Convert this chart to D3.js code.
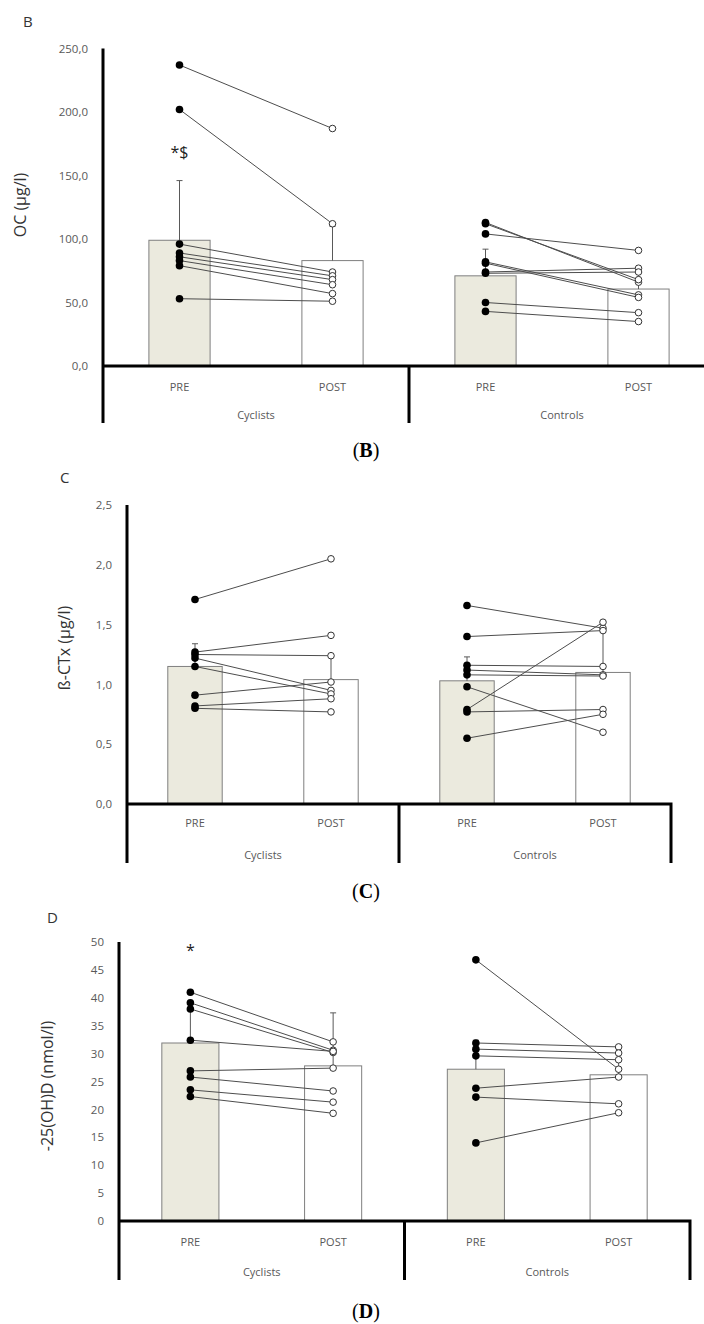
<!DOCTYPE html>
<html>
<head>
<meta charset="utf-8">
<script src="https://cdn.jsdelivr.net/npm/d3@7"></script>
<style>
  body { margin: 0; background: #fff; }
  svg { display: block; }
  .tick text { font-family: "Open Sans", sans-serif; font-size: 11.5px; fill: #595959; }
  .cat { font-family: "Open Sans", sans-serif; font-size: 11px; fill: #595959; }
  .ytitle { font-family: "Open Sans", sans-serif; font-size: 16px; fill: #333; }
  .plabel { font-family: "Open Sans", sans-serif; font-size: 15px; fill: #333; }
  .caption { font-family: "Liberation Serif", serif; font-size: 20px; fill: #000; }
</style>
</head>
<body>
<div id="chart"></div>
<script>
// categorias
const groups = ["Cyclists", "Controls"];
const phases = ["PRE", "POST"];

// B: OC (µg/l) - orden: Cyclists PRE, Cyclists POST, Controls PRE, Controls POST
const ocMeans = [99, 83, 71, 60.6];
const ocErrTop = [146, 110, 92, 73];
const ocCycPre = [237, 202, 96, 89, 86, 83, 79, 53];
const ocCycPost = [187, 112, 74, 71, 68, 64, 57, 51];
const ocCtrlPre = [113, 112, 104, 82, 81, 74, 73, 50, 43];
const ocCtrlPost = [66, 68, 91, 56, 54, 77, 74, 42, 35];
const ocTicks = [0, 50, 100, 150, 200, 250];

// C: ß-CTx (µg/l)
const ctxMeans = [1.15, 1.04, 1.03, 1.10];
const ctxErrTop = [1.34, 1.24, 1.23, 1.46];
const ctxCycPre = [1.71, 1.27, 1.25, 1.22, 1.15, 0.91, 0.82, 0.80];
const ctxCycPost = [2.05, 1.41, 1.24, 0.95, 0.92, 1.02, 0.88, 0.77];
const ctxCtrlPre = [1.66, 1.40, 1.16, 1.12, 1.08, 0.98, 0.79, 0.77, 0.55];
const ctxCtrlPost = [1.47, 1.45, 1.15, 1.08, 1.07, 0.60, 1.52, 0.79, 0.75];
const ctxTicks = [0, 0.5, 1, 1.5, 2, 2.5];

// D: -25(OH)D (nmol/l)
const vdMeans = [31.9, 27.8, 27.2, 26.2];
const vdErrTop = [38, 37.3, 32.4, 31];
const vdCycPre = [41.0, 39.1, 38.0, 32.4, 26.9, 25.8, 23.5, 22.3];
const vdCycPost = [32.1, 30.6, 30.2, 30.4, 27.4, 23.3, 21.3, 19.3];
const vdCtrlPre = [46.8, 31.9, 30.8, 29.6, 23.8, 22.2, 14.0];
const vdCtrlPost = [27.2, 31.2, 30.1, 28.9, 25.8, 21.0, 19.4];
const vdTicks = [0, 5, 10, 15, 20, 25, 30, 35, 40, 45, 50];

const comma1 = v => d3.format(".1f")(v).replace(".", ",");

const svg = d3.select("#chart")
    .append("svg")
    .attr("width", 704)
    .attr("height", 1324);

svg.append("rect").attr("width", 704).attr("height", 1324).attr("fill", "#fff");

function drawPanel(p) {
    const keys = [];
    groups.forEach(g => phases.forEach(ph => keys.push(g + "|" + ph)));

    const x = d3.scaleBand()
        .domain(keys)
        .range([p.left, p.right])
        .paddingInner(0.6)
        .paddingOuter(0.3);

    const y = d3.scaleLinear()
        .domain([0, d3.max(p.ticks)])
        .range([p.y0, p.yTop]);

    const g = svg.append("g");

    // Barras
    g.selectAll(".bar")
        .data(p.means)
        .enter()
        .append("rect")
        .attr("x", (d, i) => x(keys[i]))
        .attr("y", d => y(d))
        .attr("width", x.bandwidth())
        .attr("height", d => y(0) - y(d))
        .attr("fill", (d, i) => i % 2 === 0 ? "#ebeade" : "#fff")
        .attr("stroke", "#7f7f7f")
        .attr("stroke-width", 1);

    // Barras de error
    const cx = i => x(keys[i]) + x.bandwidth() / 2;
    g.selectAll(".err")
        .data(p.errTop)
        .enter()
        .append("path")
        .attr("d", (d, i) => "M" + cx(i) + "," + y(p.means[i]) + "V" + y(d)
            + "M" + (cx(i) - 3) + "," + y(d) + "H" + (cx(i) + 3))
        .attr("fill", "none")
        .attr("stroke", "#595959")
        .attr("stroke-width", 1);

    // Lineas individuales y puntos
    const indiv = [[p.cycPre, p.cycPost], [p.ctrlPre, p.ctrlPost]];
    indiv.forEach((pair, gi) => {
        const xPre = cx(gi * 2), xPost = cx(gi * 2 + 1);
        const pts = pair[0].map((v, k) => ({pre: v, post: pair[1][k]}));

        g.selectAll(null)
            .data(pts)
            .enter()
            .append("line")
            .attr("x1", xPre).attr("y1", d => y(d.pre))
            .attr("x2", xPost).attr("y2", d => y(d.post))
            .attr("stroke", "#4d4d4d")
            .attr("stroke-width", 1);

        g.selectAll(null)
            .data(pts)
            .enter()
            .append("circle")
            .attr("cx", xPre).attr("cy", d => y(d.pre))
            .attr("r", 3.8)
            .attr("fill", "#000");

        g.selectAll(null)
            .data(pts)
            .enter()
            .append("circle")
            .attr("cx", xPost).attr("cy", d => y(d.post))
            .attr("r", 3.3)
            .attr("fill", "#fff")
            .attr("stroke", "#333")
            .attr("stroke-width", 1);
    });

    // Eje Y
    const yAxis = d3.axisLeft(y)
        .tickValues(p.ticks)
        .tickSize(0)
        .tickPadding(15)
        .tickFormat(p.fmt);
    const ya = g.append("g")
        .attr("transform", "translate(" + p.left + ",0)")
        .call(yAxis);
    ya.select(".domain").remove();

    // Lineas de ejes y caja de categorias
    const mid = p.left + (p.right - p.left) / 2;
    const axisPath = "M" + p.left + "," + y(d3.max(p.ticks)) + "V" + p.bottom
        + "M" + p.left + "," + y(0) + "H" + p.right + "V" + p.bottom
        + "M" + mid + "," + y(0) + "V" + p.bottom;
    g.append("path")
        .attr("d", axisPath)
        .attr("fill", "none")
        .attr("stroke", "#000")
        .attr("stroke-width", 3);

    // Etiquetas de categoria
    keys.forEach((k, i) => {
        g.append("text")
            .attr("class", "cat")
            .attr("x", cx(i))
            .attr("y", p.catY)
            .attr("text-anchor", "middle")
            .attr("dy", "0.35em")
            .text(k.split("|")[1]);
    });
    groups.forEach((gr, i) => {
        g.append("text")
            .attr("class", "cat")
            .attr("x", i === 0 ? (p.left + mid) / 2 : (mid + p.right) / 2)
            .attr("y", p.groupY)
            .attr("text-anchor", "middle")
            .attr("dy", "0.35em")
            .text(gr);
    });

    // Titulo eje Y
    g.append("text")
        .attr("class", "ytitle")
        .attr("transform", "translate(" + p.titleX + "," + p.titleY + ") rotate(-90)")
        .attr("text-anchor", "middle")
        .attr("dy", "0.35em")
        .text(p.title);

    // Letra del panel
    g.append("text")
        .attr("class", "plabel")
        .attr("x", p.letterX)
        .attr("y", p.letterY)
        .attr("dy", "0.35em")
        .text(p.letter);

    // Marcas de significancia
    if (p.sig) {
        g.append("text")
            .attr("x", cx(0))
            .attr("y", y(p.sig.at))
            .attr("text-anchor", "middle")
            .attr("dy", "0.35em")
            .style("font-family", "'Open Sans', sans-serif")
            .style("font-size", "16px")
            .style("fill", "#222")
            .text(p.sig.text);
    }

    // Pie "(B)"
    const cap = g.append("text")
        .attr("class", "caption")
        .attr("x", 366)
        .attr("y", p.capY)
        .attr("text-anchor", "middle")
        .attr("dy", "0.35em");
    cap.append("tspan").text("(");
    cap.append("tspan").attr("font-weight", "bold").text(p.letter);
    cap.append("tspan").text(")");
}

drawPanel({
    letter: "B", letterX: 23, letterY: 22,
    title: "OC (µg/l)", titleX: 20, titleY: 205,
    left: 103, right: 715, y0: 366, yTop: 48.5, bottom: 423,
    catY: 387, groupY: 415, capY: 450,
    ticks: ocTicks, fmt: comma1,
    means: ocMeans, errTop: ocErrTop,
    cycPre: ocCycPre, cycPost: ocCycPost, ctrlPre: ocCtrlPre, ctrlPost: ocCtrlPost,
    sig: {text: "*$", at: 168}
});

drawPanel({
    letter: "C", letterX: 60, letterY: 478,
    title: "ß-CTx (µg/l)", titleX: 64, titleY: 648,
    left: 127, right: 671, y0: 804, yTop: 505, bottom: 863,
    catY: 823, groupY: 855, capY: 891,
    ticks: ctxTicks, fmt: comma1,
    means: ctxMeans, errTop: ctxErrTop,
    cycPre: ctxCycPre, cycPost: ctxCycPost, ctrlPre: ctxCtrlPre, ctrlPost: ctxCtrlPost
});

drawPanel({
    letter: "D", letterX: 47, letterY: 918,
    title: "-25(OH)D (nmol/l)", titleX: 47, titleY: 1086,
    left: 119, right: 690, y0: 1221, yTop: 942, bottom: 1280,
    catY: 1242, groupY: 1272, capY: 1311,
    ticks: vdTicks, fmt: d3.format("d"),
    means: vdMeans, errTop: vdErrTop,
    cycPre: vdCycPre, cycPost: vdCycPost, ctrlPre: vdCtrlPre, ctrlPost: vdCtrlPost,
    sig: {text: "*", at: 48.5}
});
</script>
</body>
</html>
